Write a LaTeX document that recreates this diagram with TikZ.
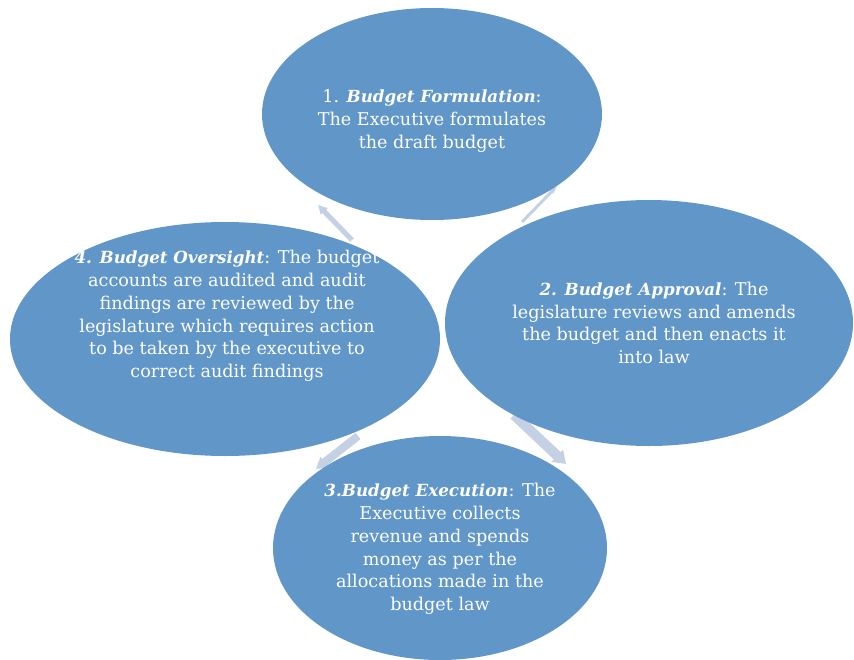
\documentclass[tikz,border=0pt]{standalone}
\usepackage{fontspec}
\setmainfont{DejaVu Serif}
\usetikzlibrary{arrows.meta,shapes.geometric}
\definecolor{cycleBlue}{RGB}{97,150,201}
\definecolor{cycleArrow}{RGB}{196,208,228}
\newcommand{\stagehead}[1]{{\fontsize{16.7}{22.8}\selectfont\bfseries\itshape #1}}

\tikzset{
  stage/.style={ellipse, fill=cycleBlue, draw=none, inner sep=0pt},
  stagetext/.style={text=white, align=center, font=\fontsize{17.6}{22.8}\selectfont},
  flow/.style={cycleArrow, line width=5pt, -{Triangle[width=9pt,length=9pt]}}
}

\begin{document}
\begin{tikzpicture}[x=1pt, y=-1pt]
    \useasboundingbox (0,0) rectangle (854,659);
    % faded cycle arrows sit behind the stages
    \coordinate (a1s) at (352,240); \coordinate (a1e) at (318,205);
    \coordinate (a2s) at (522,222); \coordinate (a2e) at (557,186);
    \coordinate (a3s) at (514,415); \coordinate (a3e) at (566,464);
    \coordinate (a4s) at (358,436); \coordinate (a4e) at (316,469);
    \draw[flow] (a1s) -- (a1e);
    \draw[flow, line width=3pt, -{Triangle[width=5pt,length=8pt]}] (a2s) -- (a2e);
    \draw[flow, line width=10pt, -{Triangle[width=16pt,length=12pt]}] (a3s) -- (a3e);
    \draw[flow, line width=8pt, -{Triangle[width=13pt,length=11pt]}] (a4s) -- (a4e);
    % the four stages
    \node[stage, minimum width=340pt, minimum height=212pt] (formulation) at (432,114) {};
    \node[stage, minimum width=408pt, minimum height=246pt] (approval) at (649,323) {};
    \node[stage, minimum width=334pt, minimum height=224pt] (execution) at (440,548) {};
    \node[stage, minimum width=430pt, minimum height=234pt] (oversight) at (225,339) {};
    \node[stagetext] (formulationtext) at (432,121)
      {1. \stagehead{Budget Formulation}:\\The Executive formulates\\the draft budget};
    \node[stagetext] (approvaltext) at (654,323)
      {\stagehead{2. Budget Approval}: The\\legislature reviews and amends\\the budget and then enacts it\\into law};
    \node[stagetext] (executiontext) at (440,549)
      {\stagehead{3.Budget Execution}: The\\Executive collects\\revenue and spends\\money as per the\\allocations made in the\\budget law};
    \node[stagetext] (oversighttext) at (227,316)
      {\stagehead{4. Budget Oversight}: The budget\\accounts are audited and audit\\findings are reviewed by the\\legislature which requires action\\to be taken by the executive to\\correct audit findings};
\end{tikzpicture}
\end{document}
